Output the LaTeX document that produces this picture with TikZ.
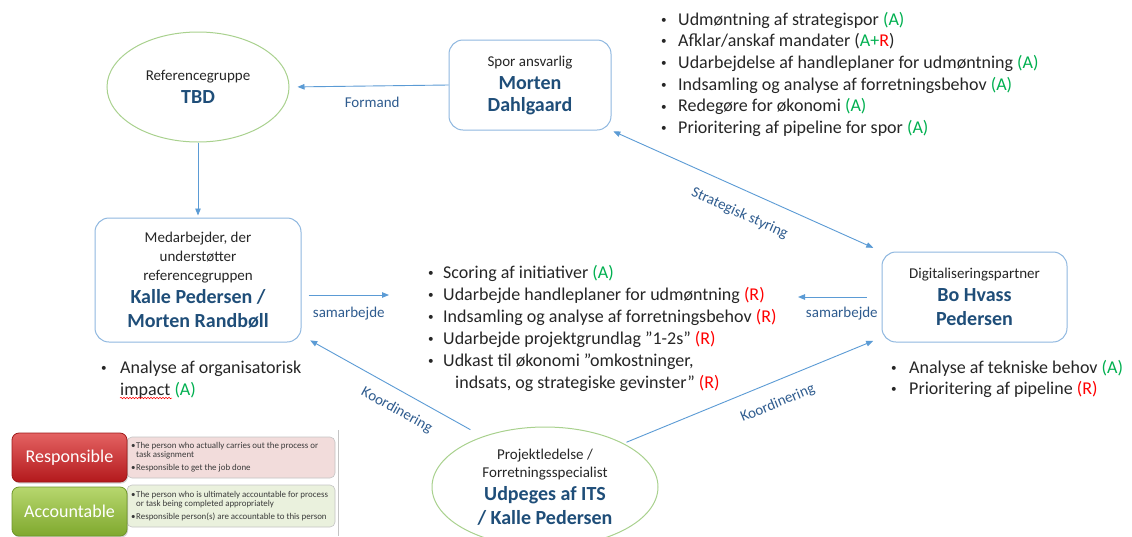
\documentclass[tikz,border=0pt]{standalone}
\usepackage{fontspec}
\usepackage{graphicx}
\setmainfont{Carlito}
\usetikzlibrary{arrows.meta,shapes.geometric,decorations.pathmorphing,shadows}

\definecolor{boxline}{HTML}{8FB8E0}
\definecolor{ellline}{HTML}{A9D18E}
\definecolor{arrowblue}{HTML}{5B9BD5}
\definecolor{nameblue}{HTML}{1F4E79}
\definecolor{labelblue}{HTML}{2F5C8F}
\definecolor{agreen}{HTML}{00B050}
\definecolor{rred}{HTML}{FF0000}
\definecolor{txt}{HTML}{262626}
\definecolor{notetxt}{HTML}{3A3A3A}
\definecolor{respTop}{HTML}{E46262}
\definecolor{respBot}{HTML}{B3191C}
\definecolor{respEdge}{HTML}{9E1A1A}
\definecolor{respNote}{HTML}{F2DCDB}
\definecolor{accTop}{HTML}{B7D76E}
\definecolor{accBot}{HTML}{7FA82E}
\definecolor{accEdge}{HTML}{6E9628}
\definecolor{accNote}{HTML}{EAF1DD}
\definecolor{noteEdge}{HTML}{C4C4C4}

\newcommand{\Acc}{{\color{agreen}(A)}}
\newcommand{\Res}{{\color{rred}(R)}}
\newcommand{\role}[1]{{\fontsize{15}{22}\selectfont #1}}
\newcommand{\who}[1]{{\fontsize{20}{22}\selectfont\bfseries\color{nameblue}#1}}
\newcommand{\listfont}{\fontsize{18}{22}\selectfont}
\newcommand{\listdot}{\raisebox{1.8pt}{\scalebox{0.62}{\textbullet}}}
\newcommand{\bul}[1][16]{\makebox[#1pt][l]{\listdot}}
\newcommand{\nbul}{\makebox[5pt][l]{\textbullet}}

\tikzset{
  person/.style={draw=boxline, line width=1pt, rounded corners=14pt,
    align=center, inner sep=0pt, text=txt, font=\fontsize{15}{22}\selectfont},
  group/.style={ellipse, draw=ellline, line width=1pt, align=center,
    inner sep=0pt, text=txt, font=\fontsize{15}{22}\selectfont},
  link/.style={draw=arrowblue, line width=0.9pt},
  linklabel/.style={font=\fontsize{15}{18}\selectfont, text=labelblue,
    inner sep=1pt},
  item/.style={anchor=base west, inner sep=0pt, font=\listfont, text=txt},
  role/.style={rounded corners=7pt, minimum width=115, minimum height=49,
    inner sep=0pt, line width=0.8pt, text=white,
    font=\fontsize{18}{20}\selectfont,
    drop shadow={shadow xshift=1pt, shadow yshift=-1.5pt, opacity=0.35}},
  note/.style={rounded corners=5pt, draw=noteEdge, line width=0.6pt,
    minimum width=208, inner sep=0pt},
  notetext/.style={anchor=west, align=left, inner sep=0pt, text=notetxt,
    font=\fontsize{8.9}{9.5}\selectfont},
}

\begin{document}
\begin{tikzpicture}[x=1pt, y=-1pt, >={Triangle[length=7pt,width=5.5pt]}]
\useasboundingbox[fill=white] (0,0) rectangle (1132,536);

% --- people and groups ---
\node[group, minimum width=182, minimum height=110] (ref) at (198,87)
  {\role{Referencegruppe}\\[1pt]\who{TBD}};
\node[person, minimum width=162, minimum height=90] (spor) at (530,85)
  {\role{Spor ansvarlig}\\[1pt]\who{Morten}\\\who{Dahlgaard}};
\node[person, minimum width=206, minimum height=124] (med) at (198,280)
  {\role{Medarbejder, der}\\[-3pt]\role{understøtter}\\[-3pt]%
   \role{referencegruppen}\\[1pt]%
   \who{Kalle Pedersen /}\\[2pt]\who{Morten Randbøll}};
\node[person, minimum width=185, minimum height=90] (dig) at (974.5,297)
  {\role{Digitaliseringspartner}\\[1pt]\who{Bo Hvass}\\[2pt]\who{Pedersen}};
\node[group, minimum width=226, minimum height=120] (pl) at (545,487)
  {\role{Projektledelse /}\\[-4pt]\role{Forretningsspecialist}\\[1pt]%
   \who{Udpeges af ITS}\\[2pt]\who{/ Kalle Pedersen}};

% --- task lists ---
\foreach \t [count=\i from 0] in {
    {Udmøntning af strategispor \Acc},
    {Afklar/anskaf mandater ({\color{agreen}A+}{\color{rred}R})},
    {Udarbejdelse af handleplaner for udmøntning \Acc},
    {Indsamling og analyse af forretningsbehov \Acc},
    {Redegøre for økonomi \Acc},
    {Prioritering af pipeline for spor \Acc}}
  \node[item] (spor-task-\i) at (661,{25+21.7*\i}) {\bul[17]\t};

\foreach \t [count=\i from 0] in {
    {Scoring af initiativer \Acc},
    {Udarbejde handleplaner for udmøntning \Res},
    {Indsamling og analyse af forretningsbehov \Res},
    {Udarbejde projektgrundlag ”1-2s” \Res},
    {Udkast til økonomi ”omkostninger,}}
  \node[item] (shared-task-\i) at (428,{278+22*\i}) {\bul[15]\t};
\node[item] (shared-task-5) at (455,388)
  {indsats, og strategiske gevinster” \Res};

\node[item] (med-task-0) at (101,373) {\bul[19]Analyse af organisatorisk};
\node[item] (med-task-1) at (120,395) {impact \Acc};
\draw[rred, line width=0.5pt,
  decorate, decoration={snake, amplitude=0.8pt, segment length=3pt}]
  (med-task-1.base west) ++(0,3) -- ++(52,0);

\node[item] (dig-task-0) at (891,373) {\bul[18]Analyse af tekniske behov \Acc};
\node[item] (dig-task-1) at (891,394) {\bul[18]Prioritering af pipeline \Res};

% --- connectors ---
\draw[link,->,shorten >=8pt] (spor.west) --
  node[linklabel, below=10pt, pos=0.48] (formand) {Formand} (ref.east);
\draw[link,->,shorten >=2pt] (ref.south) -- (med.north);

\coordinate (samL) at (389,295);
\draw[link,->] ([shift={(7,15)}]med.east) --
  node[linklabel, below=11pt] (samL-label) {samarbejde} (samL);
\coordinate (samR) at (798,297);
\draw[link,->] ([xshift=-15pt]dig.west) --
  node[linklabel, below=9pt, pos=0.36] (samR-label) {samarbejde} (samR);

\draw[link,<->,shorten <=2pt,shorten >=9pt] (spor.south east) --
  node[linklabel, sloped, below, outer sep=16pt, pos=0.51] (styring)
  {Strategisk styring} (dig.north west);
\draw[link,<-,shorten <=10pt,shorten >=14pt] ([yshift=7pt]med.south east) --
  node[linklabel, sloped, below, outer sep=11.5pt, pos=0.577] (koord-l)
  {Koordinering} (pl.141);
\draw[link,->,shorten <=3pt,shorten >=9pt] (pl.29) --
  node[linklabel, sloped, below, outer sep=14pt, pos=0.566] (koord-r)
  {Koordinering} ([yshift=5pt]dig.south west);

% --- RACI legend ---
\node[note, fill=respNote, minimum height=41] (resp-note) at (231,457.5) {};
\node[note, fill=accNote, minimum height=42] (acc-note) at (231,506) {};
\node[role, top color=respTop, bottom color=respBot, draw=respEdge]
  (resp) at (69.5,457.5) {Responsible};
\node[role, top color=accTop, bottom color=accBot, draw=accEdge]
  (acc) at (69.5,511.5) {Accountable};
\node[notetext] (resp-desc) at (131,457)
  {\nbul The person who actually carries out the process or\\
   \hspace*{5pt}task assignment\\[3pt]
   \nbul Responsible to get the job done};
\node[notetext] (acc-desc) at (131,506)
  {\nbul The person who is ultimately accountable for process\\
   \hspace*{5pt}or task being completed appropriately\\[3pt]
   \nbul Responsible person(s) are accountable to this person};
\draw[noteEdge, line width=0.8pt] (338,430) -- (338,536);
\end{tikzpicture}
\end{document}
